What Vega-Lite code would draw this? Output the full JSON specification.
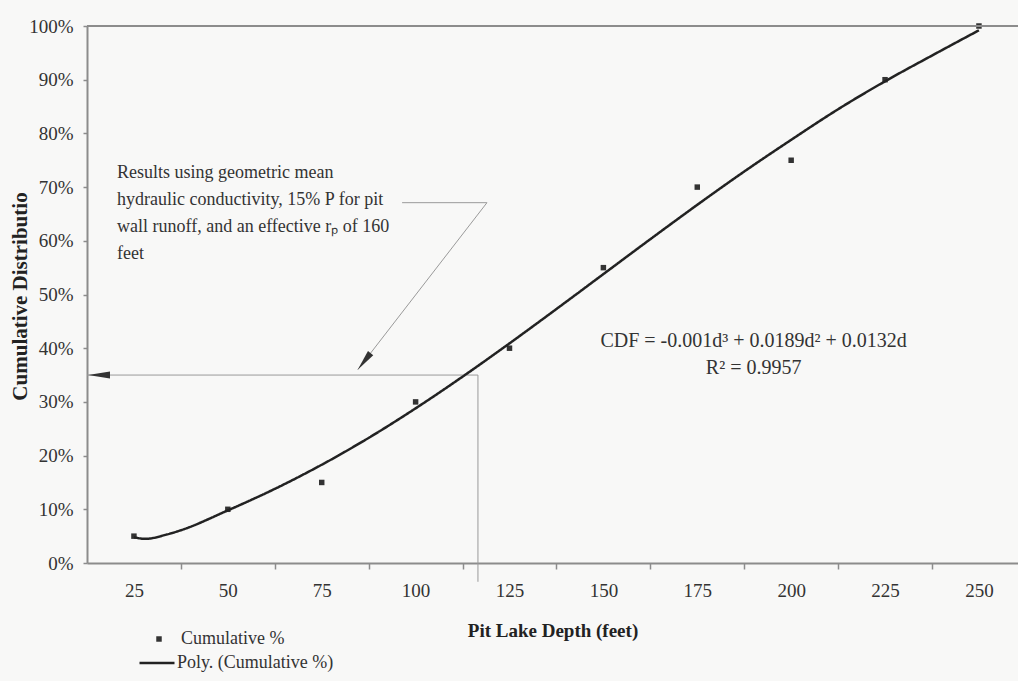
{
  "$schema": "https://vega.github.io/schema/vega-lite/v6.json",
  "width": 931,
  "height": 537,
  "autosize": "none",
  "padding": {"left": 87, "top": 26, "right": 0, "bottom": 118},
  "background": "#f8f8f7",
  "config": {
    "view": {"stroke": null},
    "font": "Liberation Serif",
    "axis": {"labelFont": "Liberation Serif", "titleFont": "Liberation Serif", "labelColor": "#333333", "titleColor": "#222222", "grid": false, "domainColor": "#8c8c8c", "tickColor": "#8c8c8c"},
    "legend": {"labelFont": "Liberation Serif", "labelColor": "#333333"}
  },
  "datasets": {
    "points": [
      {"depth": 25, "pct": 0.05}, {"depth": 50, "pct": 0.10}, {"depth": 75, "pct": 0.15},
      {"depth": 100, "pct": 0.30}, {"depth": 125, "pct": 0.40}, {"depth": 150, "pct": 0.55},
      {"depth": 175, "pct": 0.70}, {"depth": 200, "pct": 0.75}, {"depth": 225, "pct": 0.90},
      {"depth": 250, "pct": 1.00}
    ],
    "curve": [
      {"depth": 25, "pct": 0.048}, {"depth": 28, "pct": 0.045}, {"depth": 33.7, "pct": 0.053},
      {"depth": 37.5, "pct": 0.061}, {"depth": 50, "pct": 0.098}, {"depth": 62.5, "pct": 0.138},
      {"depth": 75, "pct": 0.183}, {"depth": 87.5, "pct": 0.233}, {"depth": 100, "pct": 0.288},
      {"depth": 112.5, "pct": 0.347}, {"depth": 125, "pct": 0.409}, {"depth": 137.5, "pct": 0.473},
      {"depth": 150, "pct": 0.538}, {"depth": 162.5, "pct": 0.603}, {"depth": 175, "pct": 0.667},
      {"depth": 187.5, "pct": 0.729}, {"depth": 200, "pct": 0.788}, {"depth": 212.5, "pct": 0.845},
      {"depth": 225, "pct": 0.897}, {"depth": 237.5, "pct": 0.945}, {"depth": 250, "pct": 0.992}
    ],
    "border": [{"pct": 1}],
    "guides": [
      {"depth": 12.5, "depth2": 116.6, "pct": 0.35, "pct2": 0.35},
      {"depth": 116.6, "depth2": 116.6, "pct": 0.35, "pct2": -0.035},
      {"depth": 96.4, "depth2": 119.0, "pct": 0.671, "pct2": 0.671},
      {"depth": 119.0, "depth2": 84.6, "pct": 0.671, "pct2": 0.36}
    ],
    "notes": [
      {"depth": 20.5, "pct": 0.727, "label": "Results using geometric mean"},
      {"depth": 20.5, "pct": 0.676, "label": "hydraulic conductivity, 15% P for pit"},
      {"depth": 20.5, "pct": 0.626, "label": "wall runoff, and an effective rₚ of 160"},
      {"depth": 20.5, "pct": 0.575, "label": "feet"}
    ],
    "equation": [
      {"depth": 190, "pct": 0.414, "label": "CDF = -0.001d³ + 0.0189d² + 0.0132d"},
      {"depth": 190, "pct": 0.363, "label": "R² = 0.9957"}
    ],
    "arrowLeft": [{"depth": 15.7, "pct": 0.35}],
    "arrowDiag": [{"depth": 86.3, "pct": 0.3754}]
  },
  "layer": [
    {
      "data": {"name": "points"},
      "mark": {"type": "point", "filled": true, "color": "#333333", "size": 30, "opacity": 1},
      "encoding": {
        "x": {"field": "depth", "type": "quantitative", "scale": {"domain": [12.5, 260.4], "nice": false, "zero": false},
          "axis": {"orient": "bottom", "values": [25, 50, 75, 100, 125, 150, 175, 200, 225, 250], "format": "d", "ticks": false, "tickSize": 0, "labelPadding": 18, "labelFontSize": 19, "domainWidth": 2,
            "title": "Pit Lake Depth (feet)", "titleFontSize": 19, "titleFontWeight": "bold", "titleY": 67, "titleBaseline": "middle"}},
        "y": {"field": "pct", "type": "quantitative", "scale": {"domain": [0, 1], "nice": false, "zero": false},
          "axis": {"orient": "left", "values": [0, 0.1, 0.2, 0.3, 0.4, 0.5, 0.6, 0.7, 0.8, 0.9, 1], "format": ".0%", "labelFontSize": 19, "labelPadding": 10, "tickSize": 4, "tickWidth": 1.5, "domainWidth": 2,
            "title": "Cumulative Distributio", "titleFontSize": 21, "titleFontWeight": "bold", "titleAngle": -90, "titleX": -61, "titleY": 270, "titleAlign": "center", "titleBaseline": "alphabetic"}},
        "shape": {"datum": "Cumulative %", "type": "nominal", "scale": {"range": ["square"]},
          "legend": {"orient": "none", "legendX": 63, "legendY": 604, "title": null, "labelFontSize": 18, "labelOffset": 13, "symbolSize": 30, "symbolType": "square", "symbolFillColor": "#333333", "symbolStrokeWidth": 0}}
      }
    },
    {
      "data": {"name": "border"},
      "mark": {"type": "rule", "color": "#8c8c8c", "strokeWidth": 2},
      "encoding": {"y": {"field": "pct", "type": "quantitative", "scale": {"domain": [0, 1], "nice": false, "zero": false}}}
    },
    {
      "data": {"name": "guides"},
      "mark": {"type": "rule", "color": "#9a9a9a", "strokeWidth": 1},
      "encoding": {
        "x": {"field": "depth", "type": "quantitative", "scale": {"domain": [12.5, 260.4], "nice": false, "zero": false}, "axis": null},
        "x2": {"field": "depth2"},
        "y": {"field": "pct", "type": "quantitative", "scale": {"domain": [0, 1], "nice": false, "zero": false}},
        "y2": {"field": "pct2"}
      }
    },
    {
      "data": {"name": "curve"},
      "mark": {"type": "line", "color": "#222222", "strokeWidth": 2.5, "interpolate": "monotone"},
      "encoding": {
        "x": {"field": "depth", "type": "quantitative", "scale": {"domain": [12.5, 260.4], "nice": false, "zero": false},
          "axis": {"orient": "bottom", "values": [37.5, 62.5, 87.5, 112.5, 137.5, 162.5, 187.5, 212.5, 237.5], "labels": false, "domain": false, "ticks": true, "tickSize": 6, "tickWidth": 1.5, "title": null, "grid": false}},
        "y": {"field": "pct", "type": "quantitative", "scale": {"domain": [0, 1], "nice": false, "zero": false}},
        "strokeDash": {"datum": "Poly. (Cumulative %)", "type": "nominal", "scale": {"range": [[1, 0]]},
          "legend": {"orient": "none", "legendX": 51, "legendY": 618, "title": null, "labelFontSize": 18, "labelOffset": 1, "symbolSize": 1225, "symbolStrokeWidth": 2.5, "symbolStrokeColor": "#222222", "symbolType": "stroke"}}
      }
    },
    {
      "data": {"name": "notes"},
      "mark": {"type": "text", "align": "left", "baseline": "middle", "fontSize": 18, "color": "#333333", "font": "Liberation Serif"},
      "encoding": {
        "x": {"field": "depth", "type": "quantitative", "scale": {"domain": [12.5, 260.4], "nice": false, "zero": false}, "axis": null},
        "y": {"field": "pct", "type": "quantitative", "scale": {"domain": [0, 1], "nice": false, "zero": false}},
        "text": {"field": "label"}
      }
    },
    {
      "data": {"name": "equation"},
      "mark": {"type": "text", "align": "center", "baseline": "middle", "fontSize": 20, "color": "#333333", "font": "Liberation Serif"},
      "encoding": {
        "x": {"field": "depth", "type": "quantitative", "scale": {"domain": [12.5, 260.4], "nice": false, "zero": false}, "axis": null},
        "y": {"field": "pct", "type": "quantitative", "scale": {"domain": [0, 1], "nice": false, "zero": false}},
        "text": {"field": "label"}
      }
    },
    {
      "data": {"name": "arrowLeft"},
      "mark": {"type": "point", "shape": "M0,-1L0.32,1L-0.32,1Z", "filled": true, "color": "#333333", "size": 480, "angle": 270, "opacity": 1},
      "encoding": {
        "x": {"field": "depth", "type": "quantitative", "scale": {"domain": [12.5, 260.4], "nice": false, "zero": false}, "axis": null},
        "y": {"field": "pct", "type": "quantitative", "scale": {"domain": [0, 1], "nice": false, "zero": false}}
      }
    },
    {
      "data": {"name": "arrowDiag"},
      "mark": {"type": "point", "shape": "M0,-1L0.32,1L-0.32,1Z", "filled": true, "color": "#333333", "size": 440, "angle": 218, "opacity": 1},
      "encoding": {
        "x": {"field": "depth", "type": "quantitative", "scale": {"domain": [12.5, 260.4], "nice": false, "zero": false}, "axis": null},
        "y": {"field": "pct", "type": "quantitative", "scale": {"domain": [0, 1], "nice": false, "zero": false}}
      }
    }
  ],
  "resolve": {"axis": {"x": "independent"}}
}
